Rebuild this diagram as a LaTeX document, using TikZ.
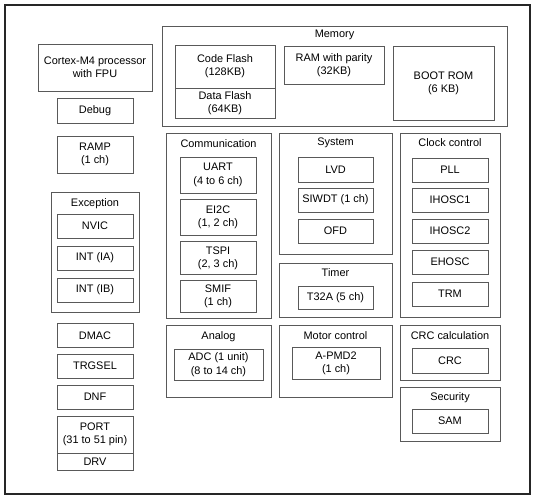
\documentclass[tikz,border=0pt]{standalone}
\usepackage{fontspec}
\setmainfont{Liberation Sans}
\tikzset{
    blk/.style={draw=black!65, line width=0.7pt, align=center, inner sep=0pt,
        font=\fontsize{8.2}{10}\selectfont},
    grp/.style={draw=black!65, line width=0.7pt, inner sep=0pt},
    ttl/.style={font=\fontsize{8.2}{10}\selectfont, inner sep=0pt},
    sz/.style 2 args={minimum width=#1*0.75pt, minimum height=#2*0.75pt}
}

\begin{document}
\begin{tikzpicture}[x=0.75pt,y=-0.75pt]
    \useasboundingbox (0,0) rectangle (536,500);
    \draw [black!85, line width=1pt] (5,5) rectangle (530,494);
    % left column
    \node [blk, sz={114}{47}] (cortex) at (95,67.5) {Cortex-M4 processor\\with FPU};
    \node [blk, sz={76}{25}] (debug) at (95,110.5) {Debug};
    \node [blk, sz={76}{37}] (ramp) at (95,154.5) {RAMP\\(1 ch)};
    \node [grp, sz={88}{120}] (exc) at (95,252) {};
    \node [ttl] (exct) at (95,204) {Exception};
    \node [blk, sz={76}{24}] (nvic) at (95,226) {NVIC};
    \node [blk, sz={76}{24}] (intia) at (95,258) {INT (IA)};
    \node [blk, sz={76}{24}] (intib) at (95,290) {INT (IB)};
    \node [blk, sz={76}{24}] (dmac) at (95,335.5) {DMAC};
    \node [blk, sz={76}{24}] (trgsel) at (95,366) {TRGSEL};
    \node [blk, sz={76}{24}] (dnf) at (95,397) {DNF};
    \node [blk, sz={76}{37}] (port) at (95,434.5) {PORT\\(31 to 51 pin)};
    \node [blk, sz={76}{17}] (drv) at (95,461.5) {DRV};
    % memory
    \node [grp, sz={345}{100}] (mem) at (334.5,76) {};
    \node [ttl] (memt) at (334.5,35) {Memory};
    \node [blk, sz={100}{43}] (cflash) at (225,66.5) {Code Flash\\(128KB)};
    \node [blk, sz={100}{30}] (dflash) at (225,103) {Data Flash\\(64KB)};
    \node [blk, sz={100}{38}] (ram) at (334,65) {RAM with parity\\(32KB)};
    \node [blk, sz={101}{74}] (boot) at (443.5,83) {BOOT ROM\\(6 KB)};
    % communication
    \node [grp, sz={105}{185}] (comm) at (218.5,225.5) {};
    \node [ttl] (commt) at (218.5,144) {Communication};
    \node [blk, sz={76}{36}] (uart) at (218,175) {UART\\(4 to 6 ch)};
    \node [blk, sz={76}{36}] (ei2c) at (218,217) {EI2C\\(1, 2 ch)};
    \node [blk, sz={76}{33}] (tspi) at (218,258) {TSPI\\(2, 3 ch)};
    \node [blk, sz={76}{32}] (smif) at (218,296.5) {SMIF\\(1 ch)};
    % analog
    \node [grp, sz={105}{72}] (ana) at (218.5,361) {};
    \node [ttl] (anat) at (218.5,337) {Analog};
    \node [blk, sz={89}{31}] (adc) at (218.5,364.5) {ADC (1 unit)\\(8 to 14 ch)};
    % system
    \node [grp, sz={113}{121}] (sys) at (335.5,193.5) {};
    \node [ttl] (syst) at (335.5,143) {System};
    \node [blk, sz={75}{25}] (lvd) at (335.5,169.5) {LVD};
    \node [blk, sz={75}{24}] (siwdt) at (335.5,200) {SIWDT (1 ch)};
    \node [blk, sz={75}{24}] (ofd) at (335.5,231) {OFD};
    % timer
    \node [grp, sz={113}{54}] (tmr) at (335.5,290) {};
    \node [ttl] (tmrt) at (335.5,273) {Timer};
    \node [blk, sz={75}{23}] (t32a) at (335.5,297.5) {T32A (5 ch)};
    % clock control
    \node [grp, sz={100}{184}] (clk) at (450,225) {};
    \node [ttl] (clkt) at (450,143) {Clock control};
    \node [blk, sz={76}{24}] (pll) at (450,170) {PLL};
    \node [blk, sz={76}{24}] (ihosc1) at (450,200) {IHOSC1};
    \node [blk, sz={76}{24}] (ihosc2) at (450,231) {IHOSC2};
    \node [blk, sz={76}{24}] (ehosc) at (450,262) {EHOSC};
    \node [blk, sz={76}{24}] (trm) at (450,294) {TRM};
    % motor control
    \node [grp, sz={113}{72}] (mot) at (335.5,361) {};
    \node [ttl] (mott) at (335.5,336) {Motor control};
    \node [blk, sz={88}{32}] (apmd) at (336,363) {A-PMD2\\(1 ch)};
    % crc, security
    \node [grp, sz={100}{55}] (crcg) at (450,352.5) {};
    \node [ttl] (crct) at (450,336) {CRC calculation};
    \node [blk, sz={76}{25}] (crc) at (450,360.5) {CRC};
    \node [grp, sz={100}{54}] (sec) at (450,414) {};
    \node [ttl] (sect) at (450,398) {Security};
    \node [blk, sz={76}{24}] (sam) at (450,421) {SAM};
\end{tikzpicture}
\end{document}
